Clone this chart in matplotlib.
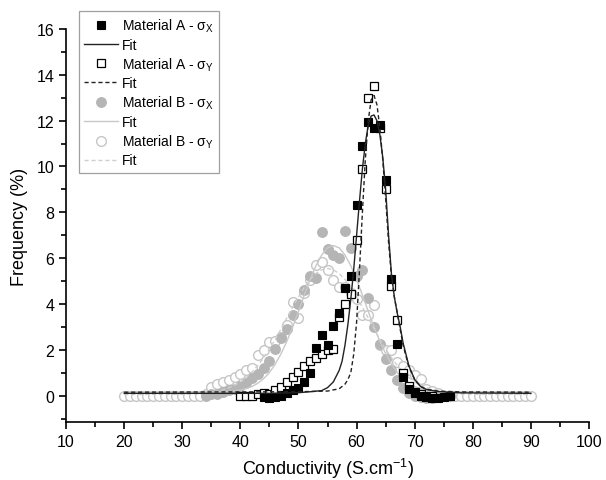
import matplotlib
matplotlib.use("Agg")
import matplotlib.pyplot as plt
from matplotlib.ticker import MultipleLocator

plt.rcParams['font.family'] = ['Liberation Sans', 'DejaVu Sans']
plt.rcParams['mathtext.fontset'] = 'custom'
plt.rcParams['mathtext.rm'] = 'Liberation Sans'
plt.rcParams['mathtext.it'] = 'Liberation Sans:italic'

# Conductivity bins (S/cm) for each measured series
bins_a_x = list(range(44, 77))
bins_a_y = list(range(40, 74))
bins_b_x = list(range(34, 77))
bins_b_y = list(range(20, 91))

# Frequency (%) per bin
mat_a_x = [-0.05, -0.1, -0.08, 0.0, 0.1, 0.23, 0.34, 0.6, 1.0, 2.08,     # 44-53
           2.63, 2.2, 3.04, 3.6, 4.7, 5.23, 8.3, 10.9, 11.95, 11.7,      # 54-63
           11.8, 9.4, 5.1, 2.24, 0.8, 0.3, 0.1, 0.0, -0.05, -0.1,        # 64-73
           -0.1, -0.05, 0.0]                                             # 74-76
mat_a_y = [0.0, 0.0, 0.0, 0.05, 0.1, 0.09, 0.23, 0.38, 0.6, 0.8,         # 40-49
           1.05, 1.3, 1.5, 1.65, 1.83, 1.98, 2.05, 3.43, 4.0, 4.45,      # 50-59
           6.78, 9.9, 12.97, 13.5, 11.66, 9.0, 4.8, 3.3, 1.0, 0.4,       # 60-69
           0.15, 0.05, 0.0, 0.0]                                         # 70-73
mat_b_x = [0.0, 0.05, 0.09, 0.15, 0.23, 0.3, 0.4, 0.55, 0.75, 0.96,      # 34-43
           1.2, 1.5, 2.05, 2.5, 2.9, 3.5, 4.0, 4.6, 5.2, 5.13,           # 44-53
           7.15, 6.4, 6.13, 6.0, 7.17, 6.45, 5.2, 5.47, 4.27, 3.0,       # 54-63
           2.27, 1.6, 1.1, 0.67, 0.35, 0.1, 0.0, -0.05, -0.1, -0.1,      # 64-73
           -0.05, 0.0, 0.0]                                              # 74-76
mat_b_y = [0.0] * 14 + [
    0.09, 0.38, 0.5, 0.6, 0.67, 0.8, 0.96, 1.1, 1.2, 1.76,               # 34-43
    1.98, 2.34, 2.4, 2.56, 3.07, 4.1, 3.4, 4.5, 5.05, 5.72,              # 44-53
    5.85, 5.47, 5.03, 4.74, 4.74, 4.5, 4.2, 3.5, 3.5, 3.94,              # 54-63
    2.2, 2.0, 1.98, 1.47, 1.3, 1.1, 0.9, 0.74, 0.3, 0.2,                 # 64-73
    0.1] + [0.0] * 16                                                    # 74-90

# Fitted distribution curves
fit_a_x_c = [20, 45, 50, 52, 54, 55, 56, 57, 57.5, 58, 58.5, 59, 59.5, 60, 60.5,
             61, 61.5, 62, 62.5, 63, 63.5, 64, 64.5, 65, 65.5, 66, 66.5, 67,
             67.5, 68, 69, 70, 71, 72, 74, 78, 90]
fit_a_x_f = [0.10, 0.10, 0.13, 0.17, 0.22, 0.35, 0.6, 1.1, 1.5, 2.2, 3.1, 4.2,
             5.5, 7.0, 8.5, 9.9, 11.0, 11.8, 12.2, 12.25, 12.0, 11.4, 10.4, 9.0,
             7.0, 5.3, 4.3, 3.6, 3.0, 2.3, 1.3, 0.7, 0.4, 0.27, 0.18, 0.12, 0.10]
fit_a_y_c = [20, 50, 55, 57, 58, 58.5, 59, 59.5, 60, 60.5, 61, 61.5, 62, 62.5,
             63, 63.5, 64, 64.5, 65, 65.5, 66, 66.5, 67, 67.5, 68, 69, 70, 71,
             72, 74, 78, 90]
fit_a_y_f = [0.15, 0.17, 0.2, 0.3, 0.5, 0.7, 1.0, 1.8, 3.2, 5.5, 8.0, 10.3,
             12.0, 12.9, 13.1, 12.7, 11.7, 10.3, 8.6, 6.7, 5.2, 4.3, 3.6, 2.9,
             2.2, 1.25, 0.7, 0.4, 0.28, 0.2, 0.16, 0.15]
fit_b_x_c = [20, 36, 38, 40, 41, 42, 43, 44, 45, 46, 47, 48, 49, 50, 51, 52, 53,
             54, 55, 56, 57, 58, 59, 60, 61, 62, 63, 64, 65, 66, 67, 68, 69, 70,
             71, 72, 74, 76, 90]
fit_b_x_f = [0.15, 0.16, 0.18, 0.24, 0.31, 0.40, 0.54, 0.74, 1.01, 1.37, 1.83,
             2.37, 3.0, 3.68, 4.39, 5.07, 5.67, 6.14, 6.45, 6.55, 6.45, 6.14,
             5.67, 5.07, 4.39, 3.68, 3.0, 2.37, 1.83, 1.37, 1.01, 0.74, 0.54,
             0.40, 0.31, 0.24, 0.18, 0.16, 0.15]
fit_b_y_c = [20, 30, 33, 35, 37, 38, 39, 40, 41, 42, 43, 44, 45, 46, 47, 48, 49,
             50, 51, 52, 53, 54, 55, 56, 57, 58, 59, 60, 61, 62, 63, 64, 65, 66,
             67, 68, 69, 70, 71, 72, 73, 75, 77, 80, 90]
fit_b_y_f = [0.05, 0.06, 0.09, 0.14, 0.25, 0.34, 0.45, 0.6, 0.79, 1.03, 1.32,
             1.65, 2.03, 2.45, 2.92, 3.39, 3.86, 4.31, 4.72, 5.07, 5.33, 5.49,
             5.55, 5.49, 5.33, 5.07, 4.72, 4.31, 3.86, 3.39, 2.92, 2.45, 2.03,
             1.65, 1.32, 1.03, 0.79, 0.6, 0.45, 0.34, 0.25, 0.14, 0.09, 0.06,
             0.05]

labels = ['Material A - σ$_\\mathregular{X}$', 'Fit',
          'Material A - σ$_\\mathregular{Y}$', 'Fit',
          'Material B - σ$_\\mathregular{X}$', 'Fit',
          'Material B - σ$_\\mathregular{Y}$', 'Fit']

fig = plt.figure(figsize=(6.06, 4.81), dpi=100)
ax = fig.add_axes([0.109, 0.1206, 0.863, 0.817])

gray_fill = '#b5b5b5'
gray_open = '#c6c6c6'

# Material B markers and fits (drawn underneath)
hb_y, = ax.plot(bins_b_y, mat_b_y, 'o', ms=7, mfc='white', mec=gray_open,
                mew=1.0, zorder=2)
hb_x, = ax.plot(bins_b_x, mat_b_x, 'o', ms=7, mfc=gray_fill, mec=gray_fill,
                mew=0.8, zorder=2)
hfb_x, = ax.plot(fit_b_x_c, fit_b_x_f, '-', color='#c8c8c8', lw=1.0, zorder=3)
hfb_y, = ax.plot(fit_b_y_c, fit_b_y_f, '--', color='#cfcfcf', lw=1.0,
                 dashes=(3, 2), zorder=3)

# Material A markers and fits
ha_y, = ax.plot(bins_a_y, mat_a_y, 's', ms=6, mfc='white', mec='black',
                mew=0.9, zorder=4)
ha_x, = ax.plot(bins_a_x, mat_a_x, 's', ms=6, mfc='black', mec='black',
                mew=0.8, zorder=5)
hfa_x, = ax.plot(fit_a_x_c, fit_a_x_f, '-', color='#222222', lw=1.0, zorder=6)
hfa_y, = ax.plot(fit_a_y_c, fit_a_y_f, '--', color='#222222', lw=1.0,
                 dashes=(3, 2), zorder=6)

ax.set_xlim(10, 100)
ax.set_ylim(-1.15, 16)
ax.xaxis.set_major_locator(MultipleLocator(10))
ax.xaxis.set_minor_locator(MultipleLocator(5))
ax.yaxis.set_major_locator(MultipleLocator(2))
ax.yaxis.set_minor_locator(MultipleLocator(1))
ax.spines['top'].set_visible(False)
ax.spines['right'].set_visible(False)
ax.spines['left'].set_bounds(-1.15, 16)
for s in ('left', 'bottom'):
    ax.spines[s].set_linewidth(1.2)
ax.tick_params(which='major', direction='out', length=5, width=1.2,
               labelsize=11.5, colors='black')
ax.tick_params(which='minor', direction='out', length=3.5, width=1.2)

ax.set_xlabel('Conductivity (S.cm$^\\mathregular{-1}$)', fontsize=13, labelpad=5)
ax.set_ylabel('Frequency (%)', fontsize=13, labelpad=6)

leg = fig.legend([ha_x, hfa_x, ha_y, hfa_y, hb_x, hfb_x, hb_y, hfb_y], labels,
                 loc='upper left', bbox_to_anchor=(0.13, 0.975),
                 fontsize=10, frameon=True, fancybox=False, numpoints=1,
                 handlelength=2.4, handletextpad=0.3, labelspacing=0.26,
                 borderpad=0.4, borderaxespad=0.0)
leg.get_frame().set_edgecolor('#888888')
leg.get_frame().set_linewidth(0.9)

fig.savefig('out.png', dpi=100)
